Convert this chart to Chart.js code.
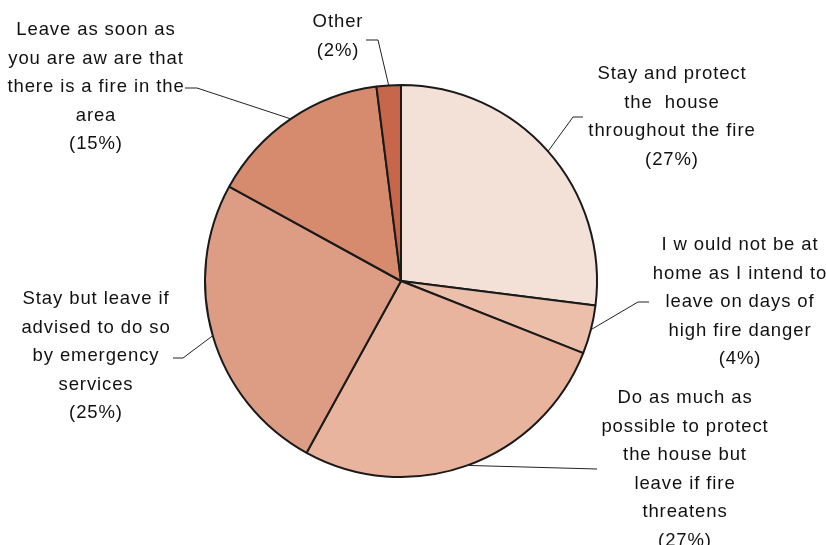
<!DOCTYPE html>
<html>
<head>
<meta charset="utf-8">
<script src="https://cdn.jsdelivr.net/npm/chart.js@4"></script>
<style>
    html, body { margin: 0; padding: 0; background: #fff; }
    #wrap { width: 826px; height: 545px; }
</style>
</head>
<body>
<div id="wrap"><canvas id="fireplanChart" width="826" height="545"></canvas></div>
<script>
// Planned response to a bushfire, share of respondents (%)
const labels = [
    'Stay and protect the house throughout the fire',
    'I would not be at home as I intend to leave on days of high fire danger',
    'Do as much as possible to protect the house but leave if fire threatens',
    'Stay but leave if advised to do so by emergency services',
    'Leave as soon as you are aware that there is a fire in the area',
    'Other'
];
const values = [27, 4, 27, 25, 15, 2];
const colors = ['#f3e1d7', '#ebbfaa', '#e8b49d', '#dc9d84', '#d68b6f', '#c7664a'];

// wrapped label text, one entry per slice
const labelLines = [
    ['Stay and protect', 'the  house', 'throughout the fire'],
    ['I w ould not be at', 'home as I intend to', 'leave on days of', 'high fire danger'],
    ['Do as much as', 'possible to protect', 'the house but', 'leave if fire', 'threatens'],
    ['Stay but leave if', 'advised to do so', 'by emergency', 'services'],
    ['Leave as soon as', 'you are aw are that', 'there is a fire in the', 'area'],
    ['Other']
];

// where each label block sits and where its leader line bends
const labelLayout = [
    { x: 672, y: 74,  elbow: [[573, 117], [583, 117]] },
    { x: 740, y: 245, elbow: [[638, 302], [649, 302]] },
    { x: 685, y: 398, elbow: [[597, 469]] },
    { x: 96,  y: 299, elbow: [[183, 358], [173, 358]] },
    { x: 96,  y: 30,  elbow: [[197, 88], [185, 88]] },
    { x: 338, y: 22,  elbow: [[378, 40], [366, 40]] }
];

const lineHeight = 28.6;

const calloutPlugin = {
    id: 'callouts',
    afterDraw(chart) {
        const ctx = chart.ctx;
        const arcs = chart.getDatasetMeta(0).data;
        ctx.save();
        ctx.strokeStyle = '#222';
        ctx.lineWidth = 1;
        arcs.forEach((arc, i) => {
            const mid = (arc.startAngle + arc.endAngle) / 2;
            const ex = arc.x + Math.cos(mid) * arc.outerRadius;
            const ey = arc.y + Math.sin(mid) * arc.outerRadius;
            const pts = labelLayout[i].elbow;
            ctx.beginPath();
            ctx.moveTo(ex, ey);
            pts.forEach(p => ctx.lineTo(p[0], p[1]));
            ctx.stroke();
        });

        ctx.fillStyle = '#111';
        ctx.font = '18.5px "Liberation Sans", Arial, sans-serif';
        ctx.textAlign = 'center';
        ctx.textBaseline = 'middle';
        ctx.letterSpacing = '0.9px';
        labelLayout.forEach((pos, i) => {
            const lines = labelLines[i].concat('(' + values[i] + '%)');
            lines.forEach((txt, j) => {
                ctx.fillText(txt, pos.x, pos.y + j * lineHeight);
            });
        });
        ctx.restore();
    }
};

const ctx = document.getElementById('fireplanChart').getContext('2d');
new Chart(ctx, {
    type: 'pie',
    data: {
        labels: labels,
        datasets: [{
            data: values,
            backgroundColor: colors,
            borderColor: '#1a1a1a',
            borderWidth: 2,
            borderAlign: 'center'
        }]
    },
    options: {
        responsive: false,
        animation: false,
        radius: 196,
        layout: {
            padding: { left: 0, right: 24, top: 17, bottom: 0 }
        },
        plugins: {
            legend: { display: false },
            tooltip: { enabled: false }
        }
    },
    plugins: [calloutPlugin]
});
</script>
</body>
</html>
